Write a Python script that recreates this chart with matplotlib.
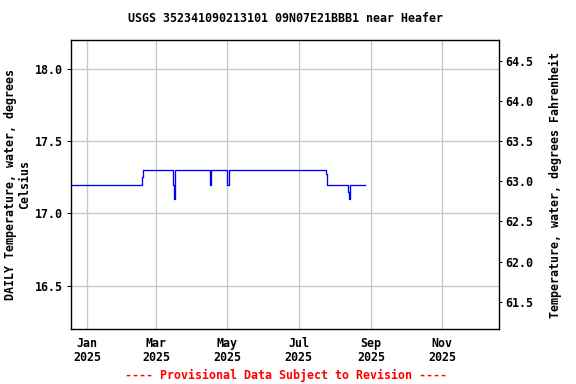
import matplotlib
matplotlib.use("Agg")
import matplotlib.pyplot as plt
import numpy as np
import pandas as pd

# Step change points of the daily series (value holds until next date); NaN = missing
change_dates = ["2024-12-01", "2025-02-17", "2025-02-18", "2025-03-15", "2025-03-16",
                "2025-03-17", "2025-04-16", "2025-04-17", "2025-05-01", "2025-05-02",
                "2025-07-10", "2025-07-11", "2025-07-15", "2025-07-16", "2025-07-24",
                "2025-07-25", "2025-08-12", "2025-08-13", "2025-08-14", "2025-08-27"]
change_values = [17.2, 17.25, 17.3, 17.2, 17.1,
                 17.3, 17.2, 17.3, 17.2, 17.3,
                 np.nan, 17.3, np.nan, 17.3, 17.27,
                 17.2, 17.15, 17.1, 17.2, 17.2]

xtick_dates = ["2025-01-01", "2025-03-01", "2025-05-01", "2025-07-01", "2025-09-01", "2025-11-01"]
xtick_labels = ["Jan\n2025", "Mar\n2025", "May\n2025", "Jul\n2025", "Sep\n2025", "Nov\n2025"]
c_ticks = [16.5, 17.0, 17.5, 18.0]
f_ticks = [61.5, 62.0, 62.5, 63.0, 63.5, 64.0, 64.5]

title = "USGS 352341090213101 09N07E21BBB1 near Heafer"
ylabel_left = "DAILY Temperature, water, degrees\nCelsius"
ylabel_right = "Temperature, water, degrees Fahrenheit"
footer = "---- Provisional Data Subject to Revision ----"

plt.rcParams['font.family'] = ['DejaVu Sans Mono']
plt.rcParams['font.weight'] = 'bold'
FS = 8.7

fig = plt.figure(figsize=(6, 4), dpi=96)
L, R, T, B = 71.3, 499.0, 40.0, 329.0
ax = fig.add_axes([L / 576, (384 - B) / 384, (R - L) / 576, (B - T) / 384])

dates = pd.to_datetime(change_dates)
ax.plot(dates, change_values, drawstyle="steps-post", color="#0000ff", lw=1.0)

ax.set_xlim(pd.Timestamp("2024-12-18 08:00"), pd.Timestamp("2025-12-19 12:00"))
ylo, yhi = 16.2, 18.2
ax.set_ylim(ylo, yhi)

ax.set_xticks(pd.to_datetime(xtick_dates))
ax.set_xticklabels(xtick_labels, fontsize=FS, fontweight="bold", linespacing=1.12)
ax.tick_params(axis="x", length=0, pad=6)
ax.set_yticks(c_ticks)
ax.set_yticklabels([f"{v:.1f}" for v in c_ticks], fontsize=FS, fontweight="bold")
ax.tick_params(axis="y", direction="out", length=3, width=0.8, pad=3.5)
ax.grid(True, color="#c8c8c8", lw=1.0)
ax.set_axisbelow(True)
for s in ax.spines.values():
    s.set_linewidth(1.0)
    s.set_color("black")

ax2 = ax.twinx()
ax2.set_ylim(ylo * 1.8 + 32, yhi * 1.8 + 32)
ax2.set_yticks(f_ticks)
ax2.set_yticklabels([f"{v:.1f}" for v in f_ticks], fontsize=FS, fontweight="bold")
ax2.tick_params(axis="y", direction="out", length=2, width=0.8, pad=2.5)

yc = 1 - ((T + B) / 2) / 384
fig.text(17.5 / 576, yc, ylabel_left, rotation=90, ha="center", va="center",
         fontsize=FS, fontweight="bold", linespacing=1.1, multialignment="center")
fig.text(555 / 576, yc, ylabel_right, rotation=90, ha="center", va="center",
         fontsize=FS, fontweight="bold")

fig.text(0.5 * (L + R) / 576, 1 - 19 / 384, title, ha="center", va="center",
         fontsize=FS, fontweight="bold")
fig.text(286 / 576, 1 - 375 / 384, footer, ha="center", va="center",
         fontsize=FS, fontweight="bold", color="red")

fig.savefig("out.png", dpi=96)
